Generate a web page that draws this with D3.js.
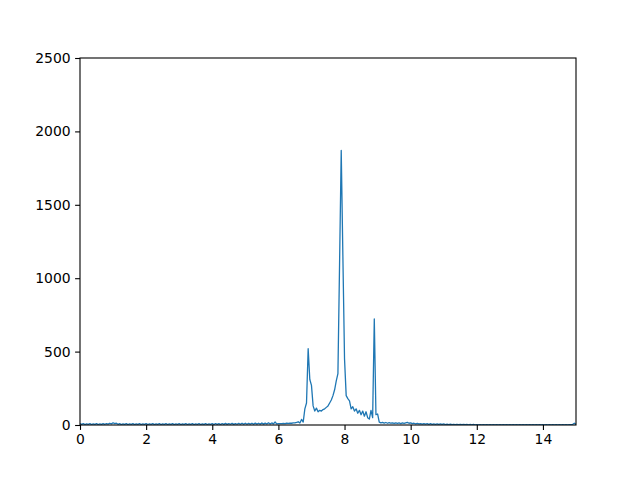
<!DOCTYPE html>
<html>
<head>
<meta charset="utf-8">
<script src="https://cdn.jsdelivr.net/npm/d3@7"></script>
<style>
  body { margin: 0; background: #fff; }
  svg { display: block; }
</style>
</head>
<body>
<div id="chart"></div>
<script>
// spectrum sampled every 0.05 on the x axis, starting at 0
const sampleStep = 0.05;
const amplitude = [
    // 0.0 - 5.95
    10, 4, 9, 3, 8, 4, 9, 3, 8, 4, 9, 3, 8, 4, 9, 5, 10, 6, 12, 8,
    15, 9, 12, 5, 9, 3, 8, 4, 9, 3, 8, 4, 9, 3, 8, 4, 9, 3, 8, 4,
    9, 3, 8, 4, 9, 3, 8, 4, 9, 3, 8, 4, 9, 3, 8, 4, 9, 3, 8, 4,
    9, 3, 8, 4, 9, 3, 8, 4, 9, 3, 8, 4, 9, 3, 8, 4, 9, 3, 8, 4,
    9, 3, 10, 4, 9, 3, 10, 4, 11, 4, 10, 5, 11, 4, 10, 5, 11, 5, 12, 5,
    12, 5, 11, 6, 12, 5, 13, 6, 12, 6, 14, 6, 13, 7, 15, 7, 14, 8, 20, 8,
    // 6.0 - 9.0
    10, 9, 10, 11, 10, 12, 11, 13, 12, 14,
    15, 18, 22, 14, 38, 20, 110, 150, 520, 310,
    270, 130, 95, 115, 90, 100, 95, 105, 110, 120,
    130, 150, 170, 200, 240, 300, 350, 1100, 1870, 1150,
    450, 200, 180, 165, 110, 125, 95, 110, 80, 100,
    70, 95, 60, 90, 50, 40, 100, 50, 722, 70,
    75,
    // 9.05 - 15.0
    20, 15, 18, 13, 17, 12, 16, 12, 15, 11, 15, 11, 14, 10, 14, 11, 15, 18, 12,
    14, 9, 12, 8, 11, 7, 10, 6, 10, 6, 9, 5, 9, 5, 8, 5, 8, 4, 7, 4,
    7, 3, 6, 3, 6, 2, 5, 2, 5, 2, 5, 2, 4, 2, 4, 1, 4, 1, 4, 1,
    3, 1, 3, 1, 3, 1, 3, 1, 3, 1, 3, 1, 3, 1, 3, 1, 3, 1, 3, 1,
    3, 1, 3, 1, 3, 1, 3, 1, 3, 1, 3, 1, 3, 1, 3, 1, 3, 1, 3, 1,
    3, 1, 3, 1, 3, 1, 3, 1, 3, 1, 3, 1, 3, 1, 3, 1, 3, 2, 5, 12,
    4,
];
const xTicks = [0, 2, 4, 6, 8, 10, 12, 14];
const yTicks = [0, 500, 1000, 1500, 2000, 2500];

const width = 640;
const height = 478;
const margin = { top: 58, right: 64, bottom: 53, left: 80 };

const svg = d3.select("#chart").append("svg")
    .attr("width", width)
    .attr("height", height)
    .style("font-family", "'DejaVu Sans', sans-serif");

const x = d3.scaleLinear().domain([0, 15]).range([margin.left, width - margin.right]);
const y = d3.scaleLinear().domain([0, 2500]).range([height - margin.bottom, margin.top]);

const points = amplitude.map((v, i) => [i * sampleStep, v]);

svg.append("defs").append("clipPath").attr("id", "plot-clip")
    .append("rect")
    .attr("x", margin.left).attr("y", margin.top)
    .attr("width", x.range()[1] - margin.left)
    .attr("height", y.range()[0] - margin.top);

svg.append("path")
    .datum(points)
    .attr("clip-path", "url(#plot-clip)")
    .attr("fill", "none")
    .attr("stroke", "#1f77b4")
    .attr("stroke-width", 1.3)
    .attr("stroke-linejoin", "round")
    .attr("d", d3.line().x(d => x(d[0])).y(d => y(d[1])));

const xAxis = svg.append("g")
    .attr("transform", `translate(0,${height - margin.bottom})`)
    .call(d3.axisBottom(x).tickValues(xTicks).tickFormat(d3.format("d")).tickSize(4.9).tickPadding(4.5));

const yAxis = svg.append("g")
    .attr("transform", `translate(${margin.left},0)`)
    .call(d3.axisLeft(y).tickValues(yTicks).tickFormat(d3.format("d")).tickSize(4.9).tickPadding(4.5));

[xAxis, yAxis].forEach(a => {
    a.select(".domain").remove();
    a.selectAll("line").attr("stroke", "#000").attr("stroke-width", 1.1);
    a.selectAll("text").attr("fill", "#000").attr("font-size", 13.9)
        .attr("font-family", "'DejaVu Sans', sans-serif");
});

// frame
svg.append("rect")
    .attr("x", margin.left).attr("y", margin.top)
    .attr("width", x.range()[1] - margin.left)
    .attr("height", y.range()[0] - margin.top)
    .attr("fill", "none")
    .attr("stroke", "#000")
    .attr("stroke-width", 1.1);
</script>
</body>
</html>
